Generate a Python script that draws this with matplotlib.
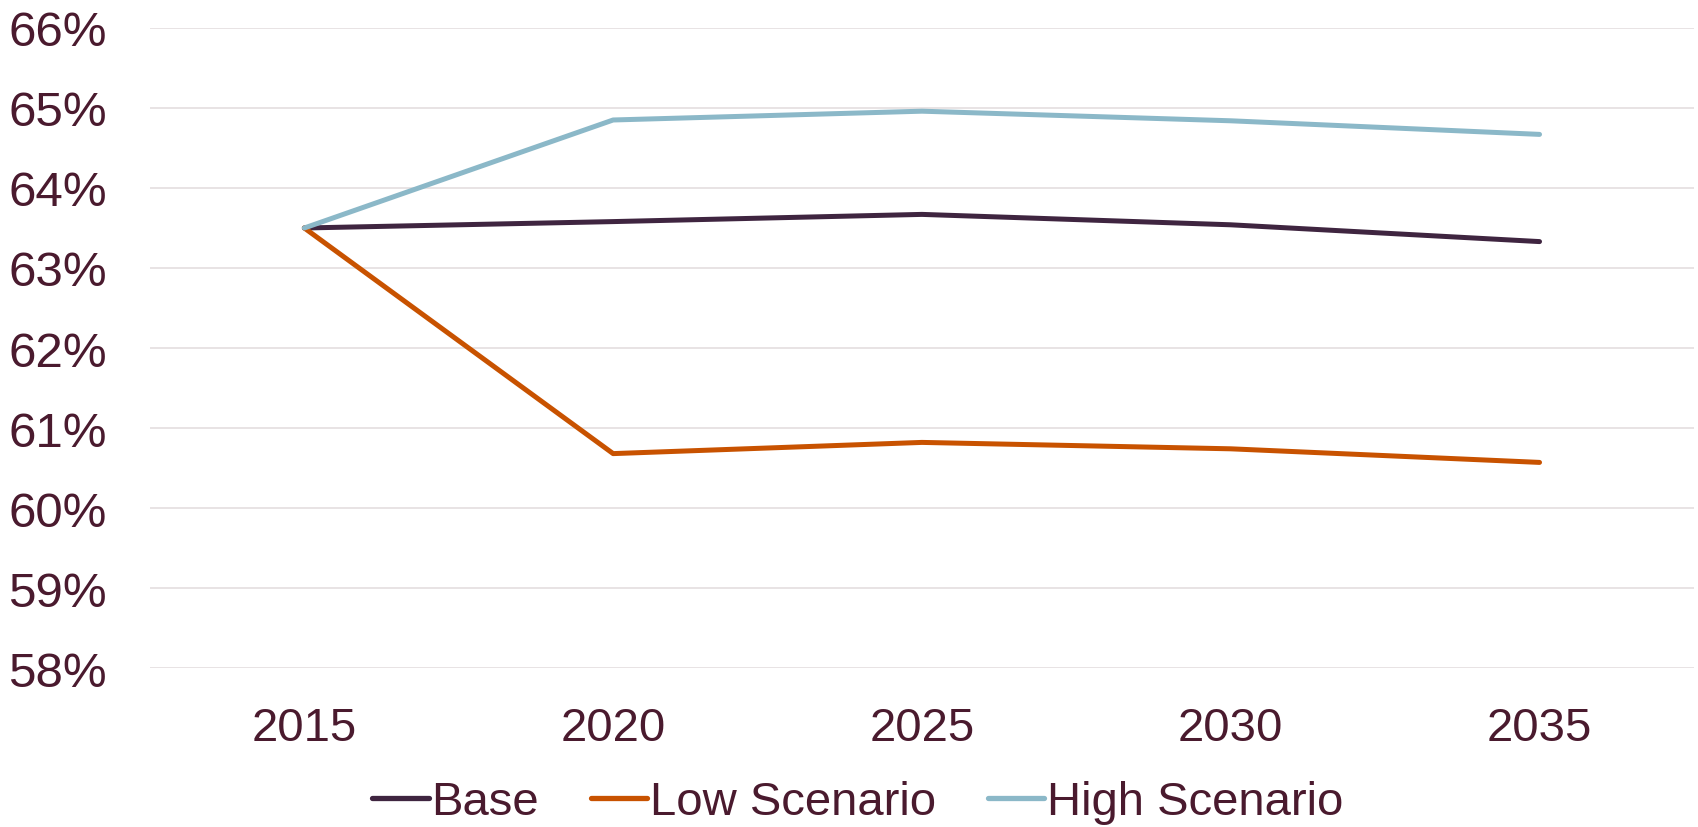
import matplotlib.pyplot as plt
from matplotlib.ticker import FuncFormatter

years = ["2015", "2020", "2025", "2030", "2035"]
base = [63.50, 63.58, 63.67, 63.54, 63.33]
low = [63.50, 60.68, 60.82, 60.74, 60.57]
high = [63.50, 64.85, 64.96, 64.84, 64.67]

text_color = "#4a1a2e"
plt.rcParams["font.family"] = ["Liberation Sans", "DejaVu Sans"]

fig = plt.figure(figsize=(16.98, 8.28), dpi=100)
ax = fig.add_axes([0.0883, 0.192, 0.9093, 0.773])

x = range(len(years))
ax.plot(x, base, color="#3f2540", lw=3.6, solid_capstyle="round", label="Base", zorder=3)
ax.plot(x, low, color="#c85200", lw=3.6, solid_capstyle="round", label="Low Scenario", zorder=3)
ax.plot(x, high, color="#8bb8c8", lw=3.6, solid_capstyle="round", label="High Scenario", zorder=4)

ax.set_xlim(-0.5, len(years) - 0.5)
ax.set_ylim(58, 66)
ax.set_yticks(range(58, 67))
ax.yaxis.set_major_formatter(FuncFormatter(lambda v, _: f"{v:.0f}%"))
ax.set_xticks(list(x))
ax.set_xticklabels(years)

ax.grid(axis="y", color="#e6e0e2", lw=1.3)
ax.set_axisbelow(True)
for s in ax.spines.values():
    s.set_visible(False)
ax.tick_params(axis="y", length=0, pad=31, labelsize=35.5, labelcolor=text_color)
ax.tick_params(axis="x", length=0, pad=27, labelsize=34, labelcolor=text_color)

leg = fig.legend(loc="center", bbox_to_anchor=(0.505, 0.03), ncol=3, frameon=False,
                 fontsize=34, handlelength=1.2, handletextpad=0.05, columnspacing=1.1,
                 borderpad=0, borderaxespad=0)
for t in leg.get_texts():
    t.set_color(text_color)
for h in leg.get_lines():
    h.set_linewidth(3.8)

fig.savefig("out.png", dpi=100)
